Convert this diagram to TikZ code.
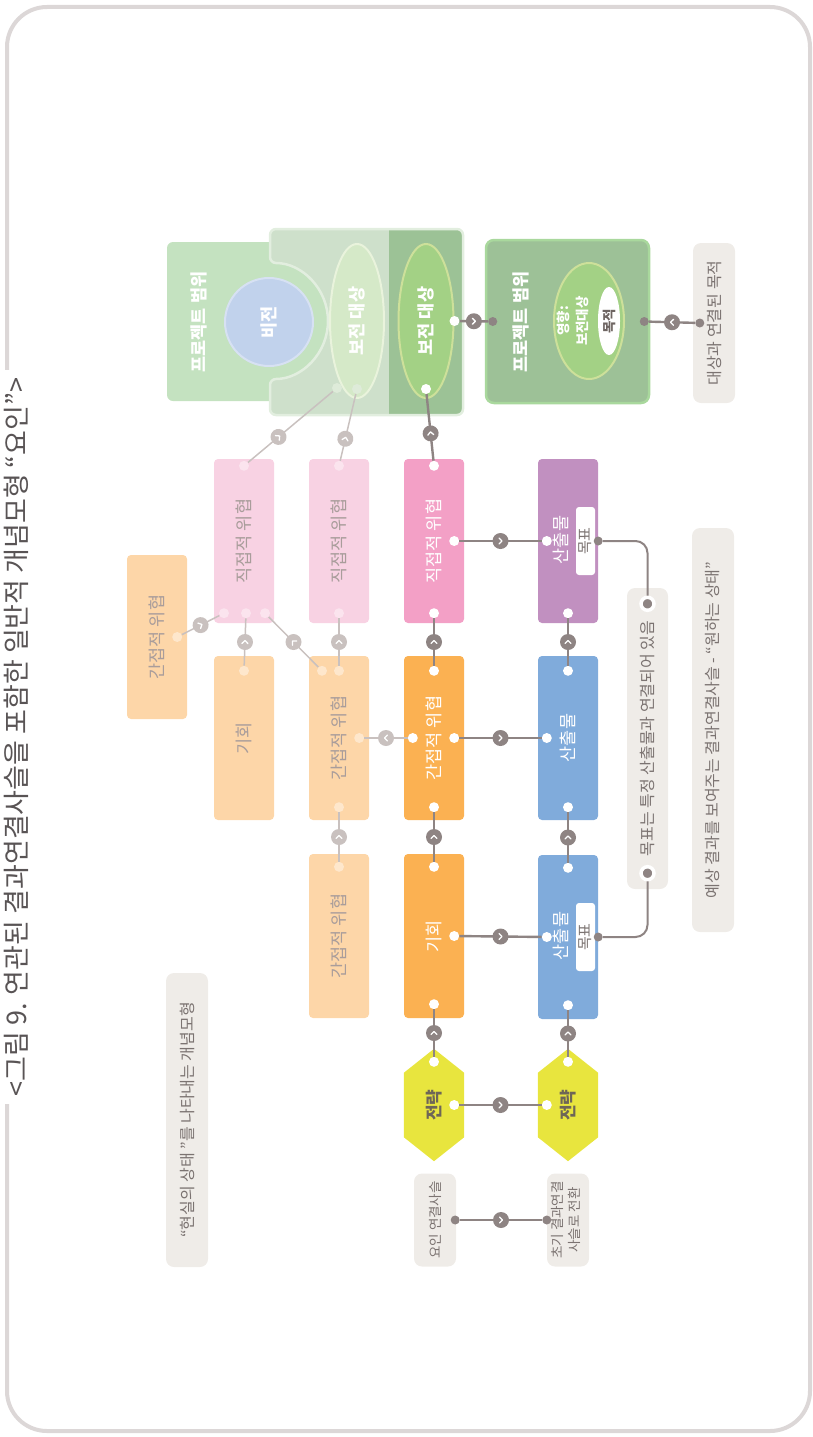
\documentclass[tikz,border=0pt]{standalone}
\usepackage{fontspec}
\setmainfont{Noto Sans CJK KR}
\usetikzlibrary{shapes.geometric,decorations.markings,backgrounds}

\definecolor{framegray}{HTML}{DCD7D7}
\definecolor{titletxt}{HTML}{595455}
\definecolor{notebg}{HTML}{EFECE8}
\definecolor{notetxt}{HTML}{7B7371}
\definecolor{fadetxt}{HTML}{A99D9B}
\definecolor{hextxt}{HTML}{6E6657}
\definecolor{aimtxt}{HTML}{6E6562}
\definecolor{pinkA}{HTML}{F8D2E3}
\definecolor{pinkB}{HTML}{F3A0C6}
\definecolor{pinkdot}{HTML}{FBE4EE}
\definecolor{orangeA}{HTML}{FDD6A8}
\definecolor{orangeB}{HTML}{FBB152}
\definecolor{orangedot}{HTML}{FEE7CC}
\definecolor{purpleB}{HTML}{C190C0}
\definecolor{blueB}{HTML}{80ABDB}
\definecolor{yellowB}{HTML}{E8E53E}
\definecolor{linkdark}{HTML}{8E8483}
\definecolor{linklight}{HTML}{C9C1BF}
\definecolor{greenA}{HTML}{C4E2C0}
\definecolor{greenP}{HTML}{CEE0CB}
\definecolor{greenD}{HTML}{9CC296}
\definecolor{greendot}{HTML}{DEEBD9}
\definecolor{panelrim}{HTML}{E2EEDF}
\definecolor{greenE}{HTML}{A3D185}
\definecolor{consA}{HTML}{D5E9C8}
\definecolor{consArim}{HTML}{E9F3DC}
\definecolor{consBrim}{HTML}{CDE09A}
\definecolor{greenR}{HTML}{9DC197}
\definecolor{greenRrim}{HTML}{A9D89D}
\definecolor{visionblue}{HTML}{C1D2EC}
\definecolor{visionrim}{HTML}{D7E1F3}

\newcommand{\vt}[1]{\rotatebox{90}{#1}}
\newcommand{\vtt}[2]{\rotatebox{90}{\begin{tabular}{@{}c@{}}#1\\#2\end{tabular}}}

\tikzset{
  boxbase/.style={rounded corners=4pt, minimum width=60pt, minimum height=164pt,
    inner sep=0pt, font=\fontsize{17.5}{20}\selectfont},
  fadedbox/.style={boxbase, fill=#1, text=fadetxt},
  fullbox/.style={boxbase, fill=#1, text=white},
  hexa/.style={minimum width=60pt, minimum height=112pt, inner sep=0pt,
    text=hextxt, font=\bfseries\fontsize{17}{20}\selectfont},
  note/.style={fill=notebg, rounded corners=8pt, inner sep=0pt, minimum width=42pt,
    text=notetxt, font=\fontsize{16}{19}\selectfont},
  goaltag/.style={fill=white, rounded corners=3pt, minimum width=19pt,
    minimum height=68pt, inner sep=0pt, text=notetxt, font=\fontsize{15}{17}\selectfont},
  lbl/.style={inner sep=0pt, text=white, font=\fontsize{17.5}{20}\selectfont},
  boldlbl/.style={lbl, font=\bfseries\fontsize{17.5}{20}\selectfont},
  dot/.style={circle, fill=#1, minimum size=10pt, inner sep=0pt},
  pin/.style={circle, fill=linkdark, minimum size=9pt, inner sep=0pt},
  ringpin/.style={pin, draw=white, line width=3.5pt, minimum size=13pt},
  badge pos/.store in=\badgepos, badge pos=.5,
  badge/.style={postaction={decorate}, decoration={markings,
    mark=at position \badgepos with {\fill[#1] (0,0) circle (8pt);
      \draw[white, line width=1.3pt, line cap=round, line join=round]
        (-1.5pt,3pt) -- (1.5pt,0pt) -- (-1.5pt,-3pt);}}},
  link/.style={draw=linkdark, line width=2.4pt, badge=linkdark},
  faintlink/.style={draw=linklight, line width=1.5pt, badge=linklight},
  goallink/.style={draw=linkdark, line width=2pt, rounded corners=12pt},
}

\begin{document}
\begin{tikzpicture}[x=1pt, y=-1pt]
\useasboundingbox (0,0) rectangle (813,1437);

% frame and caption
\draw[framegray, line width=4pt, rounded corners=40pt] (7,7) rectangle (810,1431);
\node[fill=white, inner sep=8pt, text=titletxt, font=\fontsize{27}{30}\selectfont] (title) at (16,737)
  {\vt{<그림 9. 연관된 결과연결사슬을 포함한 일반적 개념모형 “요인”>}};

% project scope, current state
\fill[greenA, rounded corners=6pt] (167,242) rectangle (330,401);
\path[save path=\panelpath, rounded corners=6pt] (300,229) -- (463,229) -- (463,415) -- (270,415)
  -- (270,379) arc[start angle=90, end angle=-90, radius=58] -- (270,229) -- cycle;
\path[use path=\panelpath, fill=greenP];
\begin{scope}
  \clip[use path=\panelpath];
  \fill[greenD] (389,220) rectangle (470,420);
\end{scope}
\path[use path=\panelpath, draw=panelrim, line width=2.5pt];

\node[boldlbl] (scopeA) at (199,322) {\vt{프로젝트 범위}};
\node[circle, fill=visionblue, draw=visionrim, line width=2pt, minimum size=88pt,
  boldlbl] (vision) at (269,322) {\vt{비전}};
\node[ellipse, fill=consA, draw=consArim, line width=2pt, minimum width=54pt,
  minimum height=154pt, boldlbl] (consA) at (357,321) {\vt{보전 대상}};
\node[ellipse, fill=greenE, draw=consBrim, line width=2pt, minimum width=55pt,
  minimum height=154pt, boldlbl] (consB) at (426,321) {\vt{보전 대상}};

% project scope, desired state
\node[fill=greenR, draw=greenRrim, line width=2.5pt, rounded corners=8pt,
  minimum width=163pt, minimum height=163pt] (scopeB) at (567.5,321.5) {};
\node[boldlbl] (scopeBlbl) at (521,322) {\vt{프로젝트 범위}};
\node[ellipse, fill=greenE, draw=consBrim, line width=2pt, minimum width=70pt,
  minimum height=116pt] (impact) at (589,321) {};
\node[boldlbl, font=\bfseries\fontsize{13.5}{19}\selectfont] (impactlbl) at (574,321)
  {\vtt{영향:}{보전대상}};
\node[ellipse, fill=white, minimum width=22pt, minimum height=68pt, inner sep=0pt,
  text=aimtxt, font=\bfseries\fontsize{13.5}{15}\selectfont] (aim) at (609,321) {\vt{목적}};

% factor boxes
\node[fadedbox=orangeA] (it0) at (157,637) {\vt{간접적 위협}};
\node[fadedbox=pinkA] (dt1) at (244,541) {\vt{직접적 위협}};
\node[fadedbox=pinkA] (dt2) at (339,541) {\vt{직접적 위협}};
\node[fullbox=pinkB] (dt3) at (434,541) {\vt{직접적 위협}};
\node[fadedbox=orangeA] (op1) at (244,738) {\vt{기회}};
\node[fadedbox=orangeA] (it1) at (339,738) {\vt{간접적 위협}};
\node[fullbox=orangeB] (it2) at (434,738) {\vt{간접적 위협}};
\node[fadedbox=orangeA] (it3) at (339,936) {\vt{간접적 위협}};
\node[fullbox=orangeB] (op2) at (434,936) {\vt{기회}};

% result boxes
\node[fullbox=purpleB] (out1) at (568,541) {};
\node[lbl] (out1lbl) at (561,540) {\vt{산출물}};
\node[goaltag] (goal1) at (585.5,541) {\vt{목표}};
\node[fullbox=blueB] (out2) at (568,738) {\vt{산출물}};
\node[fullbox=blueB] (out3) at (568,937) {};
\node[lbl] (out3lbl) at (561,936) {\vt{산출물}};
\node[goaltag] (goal2) at (585.5,937) {\vt{목표}};

% strategies
\node[hexa] (st1) at (434,1105) {\vt{전략}};
\node[hexa] (st2) at (568,1105) {\vt{전략}};
\begin{scope}[on background layer]
  \foreach \s in {st1,st2}
    \fill[yellowB] (\s.north) -- ([yshift=-24pt]\s.north east) -- ([yshift=24pt]\s.south east)
      -- (\s.south) -- ([yshift=24pt]\s.south west) -- ([yshift=-24pt]\s.north west) -- cycle;
\end{scope}

% notes
\node[note, minimum height=294pt] (real) at (187,1120) {\vt{“현실의 상태 ”를 나타내는 개념모형}};
\node[note, minimum height=93pt, font=\fontsize{13.5}{17}\selectfont] (chainA) at (435,1220)
  {\vt{요인 연결사슬}};
\node[note, minimum height=93pt, font=\fontsize{13.5}{17}\selectfont] (chainB) at (568,1220)
  {\vtt{초기 결과연결}{사슬로 전환}};
\node[note, minimum width=41pt, minimum height=301pt] (goalnote) at (647.5,738.5)
  {\vt{목표는 특정 산출물과 연결되어 있음}};
\node[note, minimum height=404pt] (resnote) at (713,730)
  {\vt{예상 결과를 보여주는 결과연결사슬 - “원하는 상태”}};
\node[note, minimum height=160pt] (aimnote) at (714,323) {\vt{대상과 연결된 목적}};

% connection points
\node[dot=white] (consB-e) at (consB.east) {};
\node[dot=white] (consB-s) at ([yshift=10pt]consB.south) {};
\node[dot=greendot] (consA-s) at ([yshift=10pt]consA.south) {};
\node[dot=greendot] (panel-s) at (337,388) {};
\node[pin] (scopeB-w) at ([xshift=8pt]scopeB.west) {};
\node[pin] (scopeB-e) at ([xshift=-6pt]scopeB.east) {};
\node[pin] (aimnote-w) at ([xshift=7pt]aimnote.west) {};

\foreach \n/\c in {dt1/pinkdot, dt2/pinkdot, dt3/white}
  \node[dot=\c] (\n-t) at ([yshift=-7pt]\n.north) {};
\foreach \n/\c in {dt2/pinkdot, dt3/white, out1/white}
  \node[dot=\c] (\n-b) at ([yshift=10pt]\n.south) {};
\foreach \k/\x in {1/-20, 2/2, 3/21}
  \node[dot=pinkdot] (dt1-b\k) at ([xshift=\x pt, yshift=10pt]dt1.south) {};
\foreach \n/\c in {op1/orangedot, it1/orangedot, it2/white, out2/white}
  \node[dot=\c] (\n-t) at ([yshift=-15pt]\n.north) {};
\node[dot=orangedot] (it1-t2) at ([xshift=-17pt, yshift=-15pt]it1.north) {};
\foreach \n/\c in {it1/orangedot, it2/white, out2/white}
  \node[dot=\c] (\n-b) at ([yshift=13pt]\n.south) {};
\foreach \n/\c in {it3/orangedot, op2/white, out3/white}
  \node[dot=\c] (\n-t) at ([yshift=-13pt]\n.north) {};
\foreach \n in {op2,out3}
  \node[dot=white] (\n-b) at ([yshift=14pt]\n.south) {};
\foreach \n in {st1,st2}
  \node[dot=white] (\n-t) at ([yshift=-13pt]\n.north) {};
\foreach \n/\c in {it0/orangedot, it1/orangedot, dt3/white, it2/white, op2/white, st1/white}
  \node[dot=\c] (\n-e) at ([xshift=-10pt]\n.east) {};
\foreach \n in {out1,out2,out3,it2,st2}
  \node[dot=white] (\n-w) at ([xshift=9pt]\n.west) {};
\node[pin] (goal1-e) at (out1.east) {};
\node[pin] (goal2-e) at (out3.east) {};
\node[ringpin] (goalnote-t) at ([yshift=-16pt]goalnote.north) {};
\node[ringpin] (goalnote-b) at ([yshift=16pt]goalnote.south) {};
\node[pin] (chainA-e) at ([xshift=-1pt]chainA.east) {};
\node[pin] (chainB-w) at (chainB.west) {};

% links of the current state
\draw[badge pos=.36, faintlink] (dt1-t) -- (panel-s);
\draw[badge pos=.33, faintlink] (dt2-t) -- (consA-s);
\draw[badge pos=.41, link] (dt3-t) -- (consB-s);
\draw[faintlink] (it0-e) -- (dt1-b1);
\draw[faintlink] (op1-t) -- (dt1-b2);
\draw[faintlink] (it1-t2) -- (dt1-b3);
\draw[faintlink] (it1-t) -- (dt2-b);
\draw[faintlink] (it3-t) -- (it1-b);
\draw[faintlink] (it2-w) -- (it1-e);
\draw[link] (it2-t) -- (dt3-b);
\draw[link] (op2-t) -- (it2-b);
\draw[link] (st1-t) -- (op2-b);

% links of the results chain
\draw[link] (out2-t) -- (out1-b);
\draw[link] (out3-t) -- (out2-b);
\draw[link] (st2-t) -- (out3-b);
\draw[link] (consB-e) -- (scopeB-w);
\draw[link] (aimnote-w) -- (scopeB-e);

% from factors to results
\draw[link] (dt3-e) -- (out1-w);
\draw[link] (it2-e) -- (out2-w);
\draw[link] (op2-e) -- (out3-w);
\draw[link] (st1-e) -- (st2-w);
\draw[link] (chainA-e) -- (chainB-w);

% goals to their note
\draw[goallink] (goal1-e) -| (goalnote-t);
\draw[goallink] (goal2-e) -| (goalnote-b);
\end{tikzpicture}
\end{document}
